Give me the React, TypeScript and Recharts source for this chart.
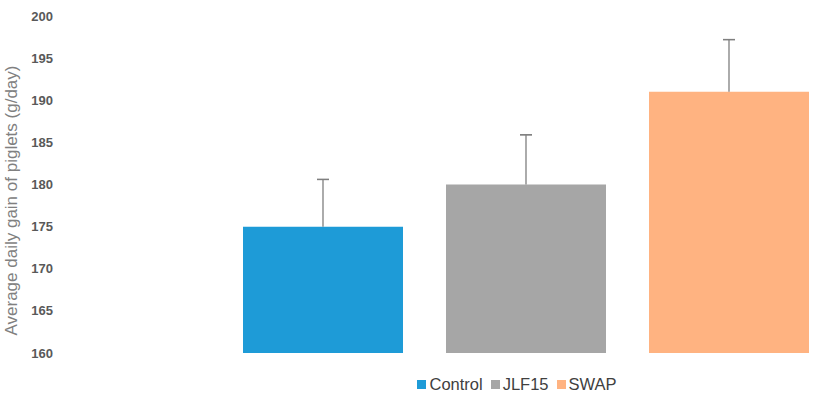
import React from 'react';
import { BarChart, Bar, XAxis, YAxis, ErrorBar, Legend } from 'recharts';

const seriesNames = ['Control', 'JLF15', 'SWAP'];
const seriesValues = [175, 180, 191];
const seriesErrors = [5.6, 5.9, 6.2];
const seriesColors = ['#1E9BD7', '#A6A6A6', '#FFB381'];
const yTicks = [160, 165, 170, 175, 180, 185, 190, 195, 200];
const yLabel = 'Average daily gain of piglets (g/day)';

const row: Record<string, any> = { name: '' };
seriesNames.forEach((n, i) => {
  // stem from the bar top upward
  row[n] = seriesValues[i];
  row[n + '_stem'] = [0, seriesErrors[i]];
  // cap only at the upper end
  row[n + '_cap'] = [-seriesErrors[i], seriesErrors[i]];
});
const data = [row];

const LegendContent = () => (
  <div
    style={{
      height: 41,
      boxSizing: 'border-box',
      paddingTop: 21,
      paddingLeft: 214,
      display: 'flex',
      justifyContent: 'center',
      alignItems: 'center',
      fontFamily: '"Liberation Sans", Arial, sans-serif',
      fontSize: 16.5,
      color: '#404040',
      lineHeight: '19px',
    }}
  >
    {seriesNames.map((n, i) => (
      <div key={n} style={{ display: 'flex', alignItems: 'center', marginLeft: i === 0 ? 0 : 8 }}>
        <span style={{ width: 9, height: 9, background: seriesColors[i], display: 'inline-block', marginRight: 3 }} />
        <span>{n}</span>
      </div>
    ))}
  </div>
);

const YLabel = (props: any) => {
  const vb = props.viewBox || {};
  const cx = 11;
  const cy = vb.y + vb.height / 2 + 16;
  return (
    <text
      x={cx}
      y={cy}
      transform={`rotate(-90, ${cx}, ${cy})`}
      textAnchor="middle"
      dominantBaseline="central"
      fill="#808080"
      fontSize={17}
      fontFamily='"Liberation Sans", Arial, sans-serif'
    >
      {yLabel}
    </text>
  );
};

export default function App() {
  return (
    <div style={{ position: 'absolute', left: 0, top: 0, width: 820, height: 402, background: '#fff' }}>
      <BarChart
        width={820}
        height={402}
        data={data}
        margin={{ top: 16, right: 0, bottom: 8, left: 0 }}
        barGap={43}
        barCategoryGap={11}
      >
        <XAxis dataKey="name" hide />
        <YAxis
          width={232}
          domain={[160, 200]}
          ticks={yTicks}
          interval={0}
          allowDataOverflow
          axisLine={false}
          tickLine={false}
          tickSize={0}
          tickMargin={179}
          tick={{ fill: '#595959', fontSize: 13, fontWeight: 'bold', fontFamily: '"Liberation Sans", Arial, sans-serif' }}
          label={<YLabel />}
        />
        <Legend verticalAlign="bottom" wrapperStyle={{ left: 0, width: 820 }} content={<LegendContent />} />
        {seriesNames.map((n, i) => (
          <Bar key={n} dataKey={n} fill={seriesColors[i]} barSize={160} isAnimationActive={false}>
            <ErrorBar dataKey={n + '_stem'} width={0} stroke="#7F7F7F" strokeWidth={1.3} direction="y" />
            <ErrorBar dataKey={n + '_cap'} width={6} stroke="#7F7F7F" strokeWidth={1.3} direction="y" />
          </Bar>
        ))}
      </BarChart>
    </div>
  );
}
